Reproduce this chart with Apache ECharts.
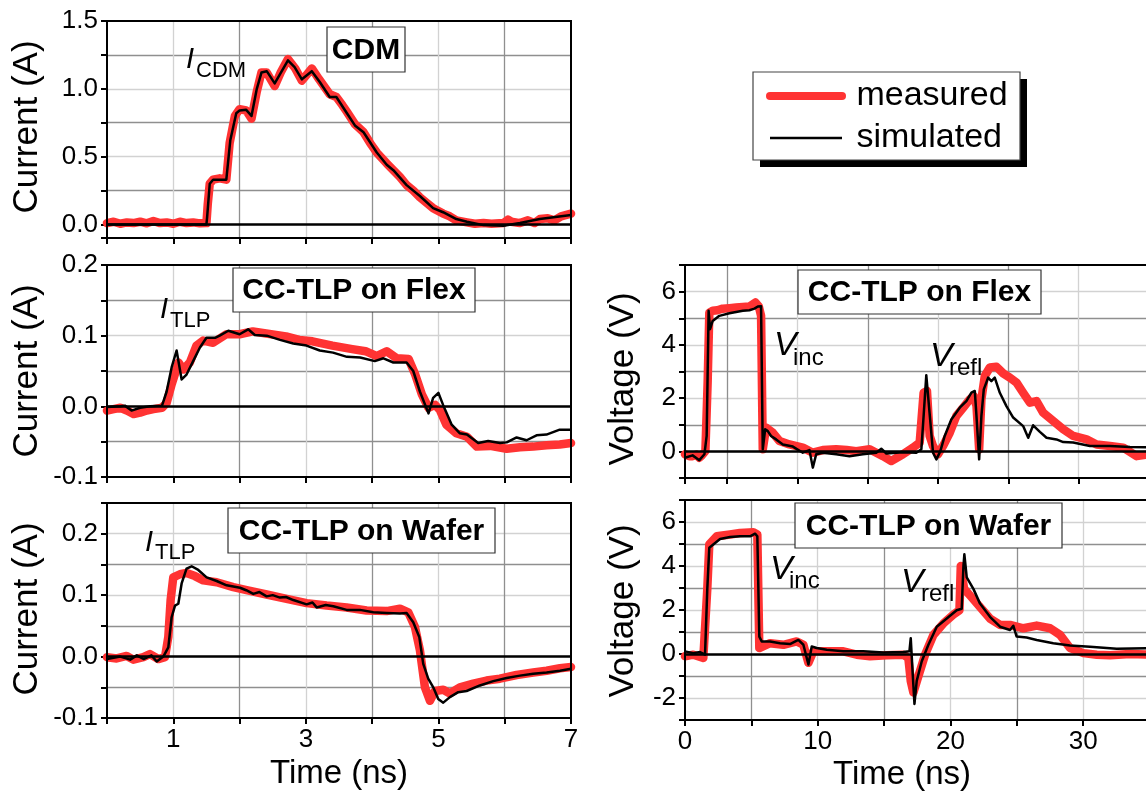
<!DOCTYPE html>
<html><head><meta charset="utf-8">
<script src="https://cdn.jsdelivr.net/npm/echarts@6/dist/echarts.min.js"></script>
<style>html,body{margin:0;padding:0;background:#fff}#c{width:1146px;height:794px}</style>
</head><body><div id="c"></div>
<script>
// ---------- DATA (time, value) ----------
const cdmSim = [[0,0],[1.50,0],[1.51,0.05],[1.55,0.30],[1.60,0.33],[1.80,0.33],[1.86,0.62],[1.95,0.82],[2.00,0.84],[2.10,0.845],[2.18,0.80],[2.26,1.00],[2.33,1.12],[2.41,1.13],[2.53,1.04],[2.73,1.21],[2.83,1.16],[2.94,1.07],[3.09,1.13],[3.21,1.05],[3.36,0.94],[3.46,0.94],[3.62,0.82],[3.74,0.73],[3.87,0.68],[4.07,0.53],[4.22,0.44],[4.32,0.40],[4.52,0.29],[4.72,0.21],[4.92,0.12],[5.07,0.09],[5.27,0.04],[5.43,0.02],[5.68,-0.005],[5.98,-0.01],[6.23,0.01],[6.53,0.04],[7.0,0.07]];
const cdmMeas = [[0,0.01],[0.1,0.02],[0.2,0.005],[0.3,0.015],[0.4,0.01],[0.5,0.02],[0.6,0.008],[0.7,0.025],[0.8,0.01],[0.9,0.015],[1.0,0.005],[1.1,0.02],[1.2,0.01],[1.3,0.015],[1.4,0.008],[1.5,0.01],[1.52,0.15],[1.55,0.3],[1.6,0.33],[1.7,0.34],[1.8,0.33],[1.85,0.6],[1.93,0.8],[2.0,0.85],[2.1,0.84],[2.18,0.78],[2.26,0.98],[2.33,1.12],[2.41,1.12],[2.53,1.02],[2.62,1.12],[2.73,1.22],[2.84,1.15],[2.94,1.06],[3.09,1.15],[3.2,1.07],[3.36,0.96],[3.46,0.94],[3.55,0.88],[3.62,0.83],[3.74,0.74],[3.87,0.68],[3.97,0.6],[4.07,0.53],[4.22,0.45],[4.32,0.40],[4.42,0.35],[4.52,0.29],[4.62,0.25],[4.72,0.2],[4.82,0.16],[4.92,0.12],[5.07,0.08],[5.17,0.06],[5.27,0.03],[5.43,0.015],[5.55,0.005],[5.68,0.01],[5.8,0.005],[5.98,0.01],[6.05,0.035],[6.1,0.02],[6.23,0.01],[6.35,0.03],[6.45,0.01],[6.53,0.04],[6.65,0.045],[6.75,0.03],[6.85,0.06],[7.0,0.08]];

const flexSimI = [[0,-0.001],[0.2,0],[0.27,0.001],[0.37,-0.006],[0.5,-0.002],[0.65,0],[0.83,0.001],[0.9,0.021],[0.975,0.055],[1.05,0.079],[1.126,0.038],[1.2,0.045],[1.3,0.064],[1.4,0.083],[1.5,0.097],[1.63,0.097],[1.7,0.1],[1.83,0.107],[2.0,0.102],[2.13,0.109],[2.23,0.101],[2.41,0.1],[2.61,0.094],[2.81,0.089],[3.01,0.086],[3.21,0.079],[3.41,0.076],[3.62,0.07],[3.82,0.069],[4.04,0.064],[4.17,0.068],[4.32,0.062],[4.52,0.062],[4.62,0.05],[4.72,0.021],[4.85,-0.01],[4.92,0.012],[5.0,0.019],[5.07,0.002],[5.2,-0.026],[5.32,-0.038],[5.43,-0.04],[5.6,-0.052],[5.75,-0.049],[5.93,-0.052],[6.03,-0.051],[6.18,-0.044],[6.33,-0.048],[6.48,-0.041],[6.63,-0.04],[6.83,-0.033],[7.0,-0.033]];
const flexMeasI = [[0,-0.006],[0.1,-0.004],[0.2,-0.002],[0.3,-0.006],[0.4,-0.011],[0.5,-0.009],[0.6,-0.006],[0.7,-0.004],[0.83,-0.002],[0.9,0.005],[0.975,0.031],[1.08,0.062],[1.15,0.052],[1.25,0.062],[1.35,0.086],[1.45,0.093],[1.6,0.09],[1.8,0.102],[2.0,0.102],[2.2,0.106],[2.4,0.103],[2.7,0.099],[2.9,0.094],[3.1,0.092],[3.4,0.086],[3.7,0.081],[3.9,0.078],[4.07,0.071],[4.22,0.078],[4.37,0.068],[4.55,0.067],[4.65,0.045],[4.75,0.017],[4.85,-0.002],[4.95,0.002],[5.02,-0.005],[5.12,-0.026],[5.27,-0.038],[5.43,-0.043],[5.58,-0.057],[5.78,-0.056],[6.03,-0.06],[6.23,-0.058],[6.43,-0.057],[6.63,-0.055],[6.83,-0.054],[7.0,-0.052]];

const waferSimI = [[0,-0.004],[0.2,0],[0.35,-0.005],[0.45,0.002],[0.55,-0.004],[0.67,0.002],[0.75,-0.008],[0.85,0],[0.925,0.015],[0.975,0.064],[1.026,0.083],[1.076,0.086],[1.126,0.119],[1.2,0.143],[1.277,0.147],[1.377,0.141],[1.503,0.129],[1.654,0.123],[1.805,0.116],[2.006,0.112],[2.1,0.108],[2.207,0.102],[2.3,0.105],[2.408,0.098],[2.5,0.1],[2.609,0.096],[2.7,0.097],[2.81,0.092],[3.012,0.085],[3.1,0.088],[3.163,0.08],[3.3,0.084],[3.414,0.082],[3.615,0.076],[3.816,0.076],[4.017,0.072],[4.218,0.071],[4.42,0.07],[4.52,0.071],[4.62,0.056],[4.711,0.032],[4.771,-0.012],[4.846,-0.036],[4.922,-0.05],[4.997,-0.069],[5.073,-0.075],[5.173,-0.066],[5.299,-0.058],[5.425,-0.056],[5.626,-0.047],[5.827,-0.04],[6.028,-0.035],[6.23,-0.031],[6.43,-0.028],[6.632,-0.026],[6.833,-0.023],[7,-0.02]];
const waferMeasI = [[0,-0.001],[0.146,-0.003],[0.297,0.001],[0.397,-0.005],[0.548,-0.001],[0.648,0.004],[0.774,-0.004],[0.875,-0.001],[0.925,0.032],[0.96,0.092],[1.0,0.129],[1.1,0.134],[1.2,0.136],[1.327,0.131],[1.453,0.124],[1.654,0.121],[1.905,0.113],[2.106,0.108],[2.408,0.101],[2.71,0.094],[3.012,0.087],[3.313,0.083],[3.615,0.08],[3.917,0.075],[4.218,0.074],[4.42,0.078],[4.545,0.072],[4.646,0.048],[4.721,0.01],[4.796,-0.05],[4.872,-0.072],[4.947,-0.056],[5.073,-0.054],[5.173,-0.06],[5.324,-0.05],[5.525,-0.044],[5.726,-0.039],[5.927,-0.036],[6.179,-0.03],[6.43,-0.026],[6.632,-0.023],[6.833,-0.019],[7,-0.017]];

const flexSimV = [[2.0,-0.24],[2.54,-0.15],[3.02,-0.33],[3.38,-0.11],[3.54,0.58],[3.68,5.28],[3.78,4.59],[3.97,4.9],[4.44,5.09],[5.16,5.19],[6.11,5.28],[6.58,5.30],[6.94,5.36],[7.18,5.44],[7.41,5.45],[7.53,0.08],[7.7,0.83],[7.89,0.76],[8.12,0.58],[8.48,0.45],[8.96,0.26],[9.67,0.18],[10.38,-0.05],[10.85,0.05],[11.09,-0.61],[11.33,-0.11],[11.8,-0.05],[12.75,-0.11],[13.7,-0.18],[14.65,-0.11],[15.6,-0.05],[15.96,0.1],[16.32,-0.08],[17.5,-0.03],[18.45,-0.05],[18.81,0.08],[18.97,1.33],[19.16,2.86],[19.35,1.71],[19.64,-0.05],[19.88,-0.3],[20.16,0.01],[20.47,0.58],[20.94,1.2],[21.54,1.64],[22.01,1.89],[22.37,2.21],[22.61,2.27],[22.73,1.33],[22.92,-0.3],[23.08,1.33],[23.25,2.33],[23.56,2.77],[23.79,2.64],[24.03,2.77],[24.39,2.2],[24.86,1.7],[25.34,1.27],[26.05,0.95],[26.41,0.51],[26.76,0.98],[27.24,0.73],[27.71,0.51],[28.42,0.45],[28.9,0.35],[29.61,0.33],[30.8,0.2],[32.22,0.2],[33.65,0.16],[35,0.15]];
const flexMeasV = [[2.0,-0.11],[2.3,-0.18],[2.54,-0.18],[2.8,-0.12],[3.02,-0.24],[3.2,-0.15],[3.45,0.01],[3.61,2.58],[3.73,5.21],[3.97,5.28],[4.3,5.3],[4.68,5.36],[5.16,5.38],[5.63,5.4],[6.11,5.42],[6.58,5.44],[7.01,5.59],[7.25,5.44],[7.41,5.09],[7.53,0.08],[7.77,0.89],[8.24,0.7],[8.72,0.39],[9.43,0.26],[10.38,0.14],[11.09,-0.05],[11.8,0.05],[12.75,0.08],[13.5,0.05],[14.18,0.01],[15.13,0.08],[16.08,-0.18],[16.67,-0.36],[17.5,-0.11],[18.22,0.14],[18.69,0.33],[18.97,2.2],[19.21,2.27],[19.4,0.58],[19.64,0.2],[19.99,-0.11],[20.35,0.2],[20.83,0.7],[21.3,1.33],[21.78,1.64],[22.25,1.95],[22.53,2.08],[22.73,1.71],[22.92,0.08],[23.08,1.95],[23.32,2.83],[23.68,3.15],[24.15,3.18],[24.63,2.93],[25.1,2.77],[25.58,2.58],[26.05,2.2],[26.53,1.83],[27.0,1.89],[27.48,1.45],[28.19,1.14],[28.9,0.83],[29.61,0.58],[30.56,0.45],[31.27,0.26],[32.22,0.2],[33.17,0.14],[34.12,-0.18],[35,-0.11]];

const waferSimV = [[0,0.12],[0.63,0.04],[1.13,0.09],[1.51,-0.03],[1.68,2.96],[1.83,4.83],[2.13,4.98],[2.64,5.23],[3.39,5.32],[4.14,5.35],[4.9,5.35],[5.28,5.47],[5.45,5.35],[5.6,0.79],[5.78,0.57],[6.41,0.57],[7.16,0.49],[7.91,0.45],[8.54,0.64],[8.92,0.42],[9.3,-0.48],[9.55,0.34],[9.92,0.27],[10.68,0.19],[11.93,0.12],[13.44,0.12],[14.95,0.07],[16.45,0.09],[16.91,0.12],[17.01,0.72],[17.16,-0.93],[17.29,-2.27],[17.46,-1.22],[17.84,-0.33],[18.34,0.42],[18.97,1.24],[19.72,1.61],[20.47,1.99],[20.85,2.06],[20.98,4.0],[21.05,4.53],[21.23,3.48],[21.73,2.96],[22.23,2.29],[22.98,1.69],[23.74,1.24],[24.49,1.09],[24.74,1.28],[24.99,0.79],[25.74,0.75],[26.5,0.64],[27.75,0.49],[29.01,0.39],[30.52,0.33],[32.53,0.24],[35,0.27]];
const waferMeasV = [[0,-0.1],[0.63,-0.03],[1.38,-0.18],[1.68,2.96],[1.83,4.98],[2.39,5.35],[3.39,5.43],[4.14,5.5],[5.15,5.53],[5.45,5.43],[5.6,0.27],[6.41,0.49],[7.41,0.42],[8.42,0.57],[8.92,0.42],[9.3,-0.4],[9.67,0.12],[10.68,0.12],[11.93,0.12],[12.94,-0.03],[13.94,-0.1],[15.2,-0.06],[16.45,-0.03],[16.83,-0.18],[17.01,-1.23],[17.21,-1.75],[17.59,-1.0],[18.09,-0.03],[18.72,0.87],[19.47,1.39],[20.22,1.79],[20.68,1.99],[20.78,4.0],[20.88,4.08],[21.03,2.96],[21.48,2.66],[22.23,2.14],[22.98,1.61],[23.74,1.32],[24.49,1.32],[25.5,1.17],[26.5,1.29],[27.51,1.17],[28.26,0.87],[29.01,0.27],[30.02,0.04],[31.03,-0.03],[32.03,-0.06],[33.54,0.0],[35,-0.03]];

const seriesNames = ['measured', 'simulated'];
const panelTitles = ['CDM', 'CC-TLP on Flex', 'CC-TLP on Wafer', 'CC-TLP on Flex', 'CC-TLP on Wafer'];

// ---------- STYLE ----------
const FONT = "'Liberation Sans', Arial, Helvetica, sans-serif";
const RED = '#ff3333';
const GD = '#8f8f8f', GL = '#d2d2d2';

const grids = [
  {left:107, top:21, width:464, height:217},
  {left:107, top:265, width:464, height:212},
  {left:107, top:503, width:464, height:215},
  {left:685, top:265, width:464, height:213},
  {left:685, top:500, width:464.5, height:220}
];

function baseAxis(gi, extra, colors) {
  return Object.assign({
    gridIndex: gi, type: 'value',
    axisLine: {show: true, onZero: false, lineStyle: {color: '#000', width: 2}},
    axisTick: {show: true, inside: false, length: 6, lineStyle: {color: '#000', width: 2}},
    axisLabel: {show: false},
    splitLine: {show: true, showMinLine: false, showMaxLine: false, lineStyle: {color: colors, width: 1.3}},
    minorTick: {show: false}
  }, extra);
}
const lbl = (fmt) => ({show: true, formatter: fmt, fontSize: 26, color: '#000', fontFamily: FONT, margin: 9, showMinLabel: true, showMaxLabel: true});
const isMult = (v, m) => Math.abs(v / m - Math.round(v / m)) < 1e-6;
const fmt1 = (m) => (v) => isMult(v, m) ? (Math.abs(v) < 1e-9 ? '0.0' : v.toFixed(1)) : '';
const oddFmt = (v) => (Math.round(v) % 2 === 1 && isMult(v, 1)) ? String(Math.round(v)) : '';
const tenFmt = (v) => isMult(v, 10) && v < 34 ? String(Math.round(v)) : '';
const evenFmt = (v) => (isMult(v, 2)) ? String(Math.round(v)) : '';

const xAxes = [
  baseAxis(0, {min: 0, max: 7, interval: 1}, [GL, GD]),
  baseAxis(1, {min: 0, max: 7, interval: 1}, [GL, GD]),
  baseAxis(2, {min: 0, max: 7, interval: 1, axisLabel: lbl(oddFmt)}, [GL, GD]),
  baseAxis(3, {min: 2, max: 35, minInterval: 5, maxInterval: 5}, [GD, GL]),
  baseAxis(4, {min: 0, max: 35, interval: 5, axisLabel: Object.assign(lbl(tenFmt), {showMaxLabel: false})}, [GD, GL])
];
const yAxes = [
  baseAxis(0, {min: -0.1, max: 1.5, minInterval: 0.25, maxInterval: 0.25, axisLabel: lbl(v => (v > -0.01 && isMult(v, 0.5)) ? (Math.abs(v) < 1e-9 ? '0.0' : v.toFixed(1)) : '')}, [GL, GD]),
  baseAxis(1, {min: -0.1, max: 0.2, interval: 0.05, axisLabel: lbl(fmt1(0.1))}, [GD, GL]),
  baseAxis(2, {min: -0.1, max: 0.25, interval: 0.05, axisLabel: lbl(fmt1(0.1))}, [GD, GL]),
  baseAxis(3, {min: -1, max: 7, interval: 1, axisLabel: lbl(evenFmt)}, [GL, GD]),
  baseAxis(4, {min: -3, max: 7, interval: 1, axisLabel: lbl(evenFmt)}, [GL, GD])
];

const measData = [cdmMeas, flexMeasI, waferMeasI, flexMeasV, waferMeasV];
const simData = [cdmSim, flexSimI, waferSimI, flexSimV, waferSimV];
const series = [];
measData.forEach((d, i) => series.push({
  name: seriesNames[0], type: 'line', xAxisIndex: i, yAxisIndex: i, data: d,
  symbol: 'none', showSymbol: false, silent: true, animation: false, z: 2,
  emphasis: {disabled: true},
  lineStyle: {color: RED, width: 8.5, cap: 'round', join: 'round'}, itemStyle: {color: RED}
}));
simData.forEach((d, i) => series.push({
  name: seriesNames[1], type: 'line', xAxisIndex: i, yAxisIndex: i, data: d,
  symbol: 'none', showSymbol: false, silent: true, animation: false, z: 3,
  emphasis: {disabled: true},
  lineStyle: {color: '#000', width: 2.5, join: 'round'}, itemStyle: {color: '#000'},
  markLine: {silent: true, animation: false, symbol: ['none', 'none'], label: {show: false},
    lineStyle: {color: '#000', width: 2.5, type: 'solid'}, emphasis: {disabled: true}, data: [{yAxis: 0}]}
}));

// ---------- GRAPHIC (frames, titles, annotations) ----------
const els = [];
grids.forEach(g => els.push({type: 'rect', z: 50, silent: true,
  shape: {x: g.left, y: g.top, width: g.width, height: g.height},
  style: {fill: 'none', stroke: '#000', lineWidth: 2}}));

const boxes = [[327, 27, 78, 45], [233, 268, 242, 44], [228, 508, 267, 45], [798, 270, 243, 44], [795, 503, 267, 45]];
boxes.forEach((b, i) => {
  els.push({type: 'rect', z: 60, silent: true, shape: {x: b[0], y: b[1], width: b[2], height: b[3]},
    style: {fill: '#fff', stroke: '#333', lineWidth: 1.2}});
  els.push({type: 'text', z: 61, silent: true, style: {text: panelTitles[i], x: b[0] + b[2] / 2, y: b[1] + b[3] / 2 + 1,
    textAlign: 'center', textVerticalAlign: 'middle', font: 'bold 30px ' + FONT, fill: '#000'}});
});

function t(x, baseline, text, size, style) {
  els.push({type: 'text', z: 61, silent: true, style: {text, x, y: baseline - 0.35 * size,
    textAlign: 'left', textVerticalAlign: 'middle', font: (style || '') + ' ' + size + 'px ' + FONT, fill: '#000'}});
}
// I_CDM, I_TLP, V_inc, V_refl
t(186, 70, 'I', 29, 'italic'); t(196, 79, 'CDM', 22);
t(160, 320, 'I', 29, 'italic'); t(170, 329, 'TLP', 22);
t(145, 553, 'I', 29, 'italic'); t(155, 561, 'TLP', 22);
t(774, 357, 'V', 34, 'italic'); t(793, 367, 'inc', 24);
t(930, 368, 'V', 34, 'italic'); t(949, 377, 'refl', 24);
t(770, 581, 'V', 34, 'italic'); t(789, 590, 'inc', 24);
t(901, 594, 'V', 34, 'italic'); t(921, 603, 'refl', 24);

function rotTitle(text, x, y) {
  els.push({type: 'text', x, y, rotation: Math.PI / 2, z: 61, silent: true,
    style: {text, x: 0, y: 0, textAlign: 'center', textVerticalAlign: 'middle', font: '35px ' + FONT, fill: '#000'}});
}
rotTitle('Current (A)', 27, 127);
rotTitle('Current (A)', 27, 371);
rotTitle('Current (A)', 27, 609);
rotTitle('Voltage (V)', 623, 379);
rotTitle('Voltage (V)', 623, 611);
[[339, 774], [902, 775]].forEach(p => els.push({type: 'text', z: 61, silent: true,
  style: {text: 'Time (ns)', x: p[0], y: p[1], textAlign: 'center', textVerticalAlign: 'middle', font: '33px ' + FONT, fill: '#000'}}));

// legend frame with hard shadow
els.push({type: 'rect', z: 1, silent: true, shape: {x: 760, y: 79, width: 267, height: 88}, style: {fill: '#000'}});
els.push({type: 'rect', z: 2, silent: true, shape: {x: 753, y: 72, width: 267, height: 88}, style: {fill: '#fff', stroke: '#444', lineWidth: 1.2}});

const chart = echarts.init(document.getElementById('c'), null, {renderer: 'canvas'});
chart.setOption({
  animation: false,
  backgroundColor: '#fff',
  grid: grids.map(g => Object.assign({show: false, containLabel: false, outerBoundsMode: 'none'}, g)),
  xAxis: xAxes,
  yAxis: yAxes,
  legend: {
    data: [
      {name: seriesNames[0], itemStyle: {opacity: 0}, lineStyle: {color: RED, width: 8, cap: 'round', opacity: 1}},
      {name: seriesNames[1], itemStyle: {opacity: 0}, lineStyle: {color: '#000', width: 2.5, opacity: 1}}
    ],
    formatter: (n) => ' ' + n,
    orient: 'vertical', left: 753, top: 72, z: 20,
    padding: [7, 10, 6, 13], itemGap: 8, itemWidth: 72, itemHeight: 14,
    selectedMode: false,
    itemStyle: {opacity: 0},
    textStyle: {fontSize: 34, color: '#000', fontFamily: FONT}
  },
  graphic: {elements: els},
  series
});
</script></body></html>
